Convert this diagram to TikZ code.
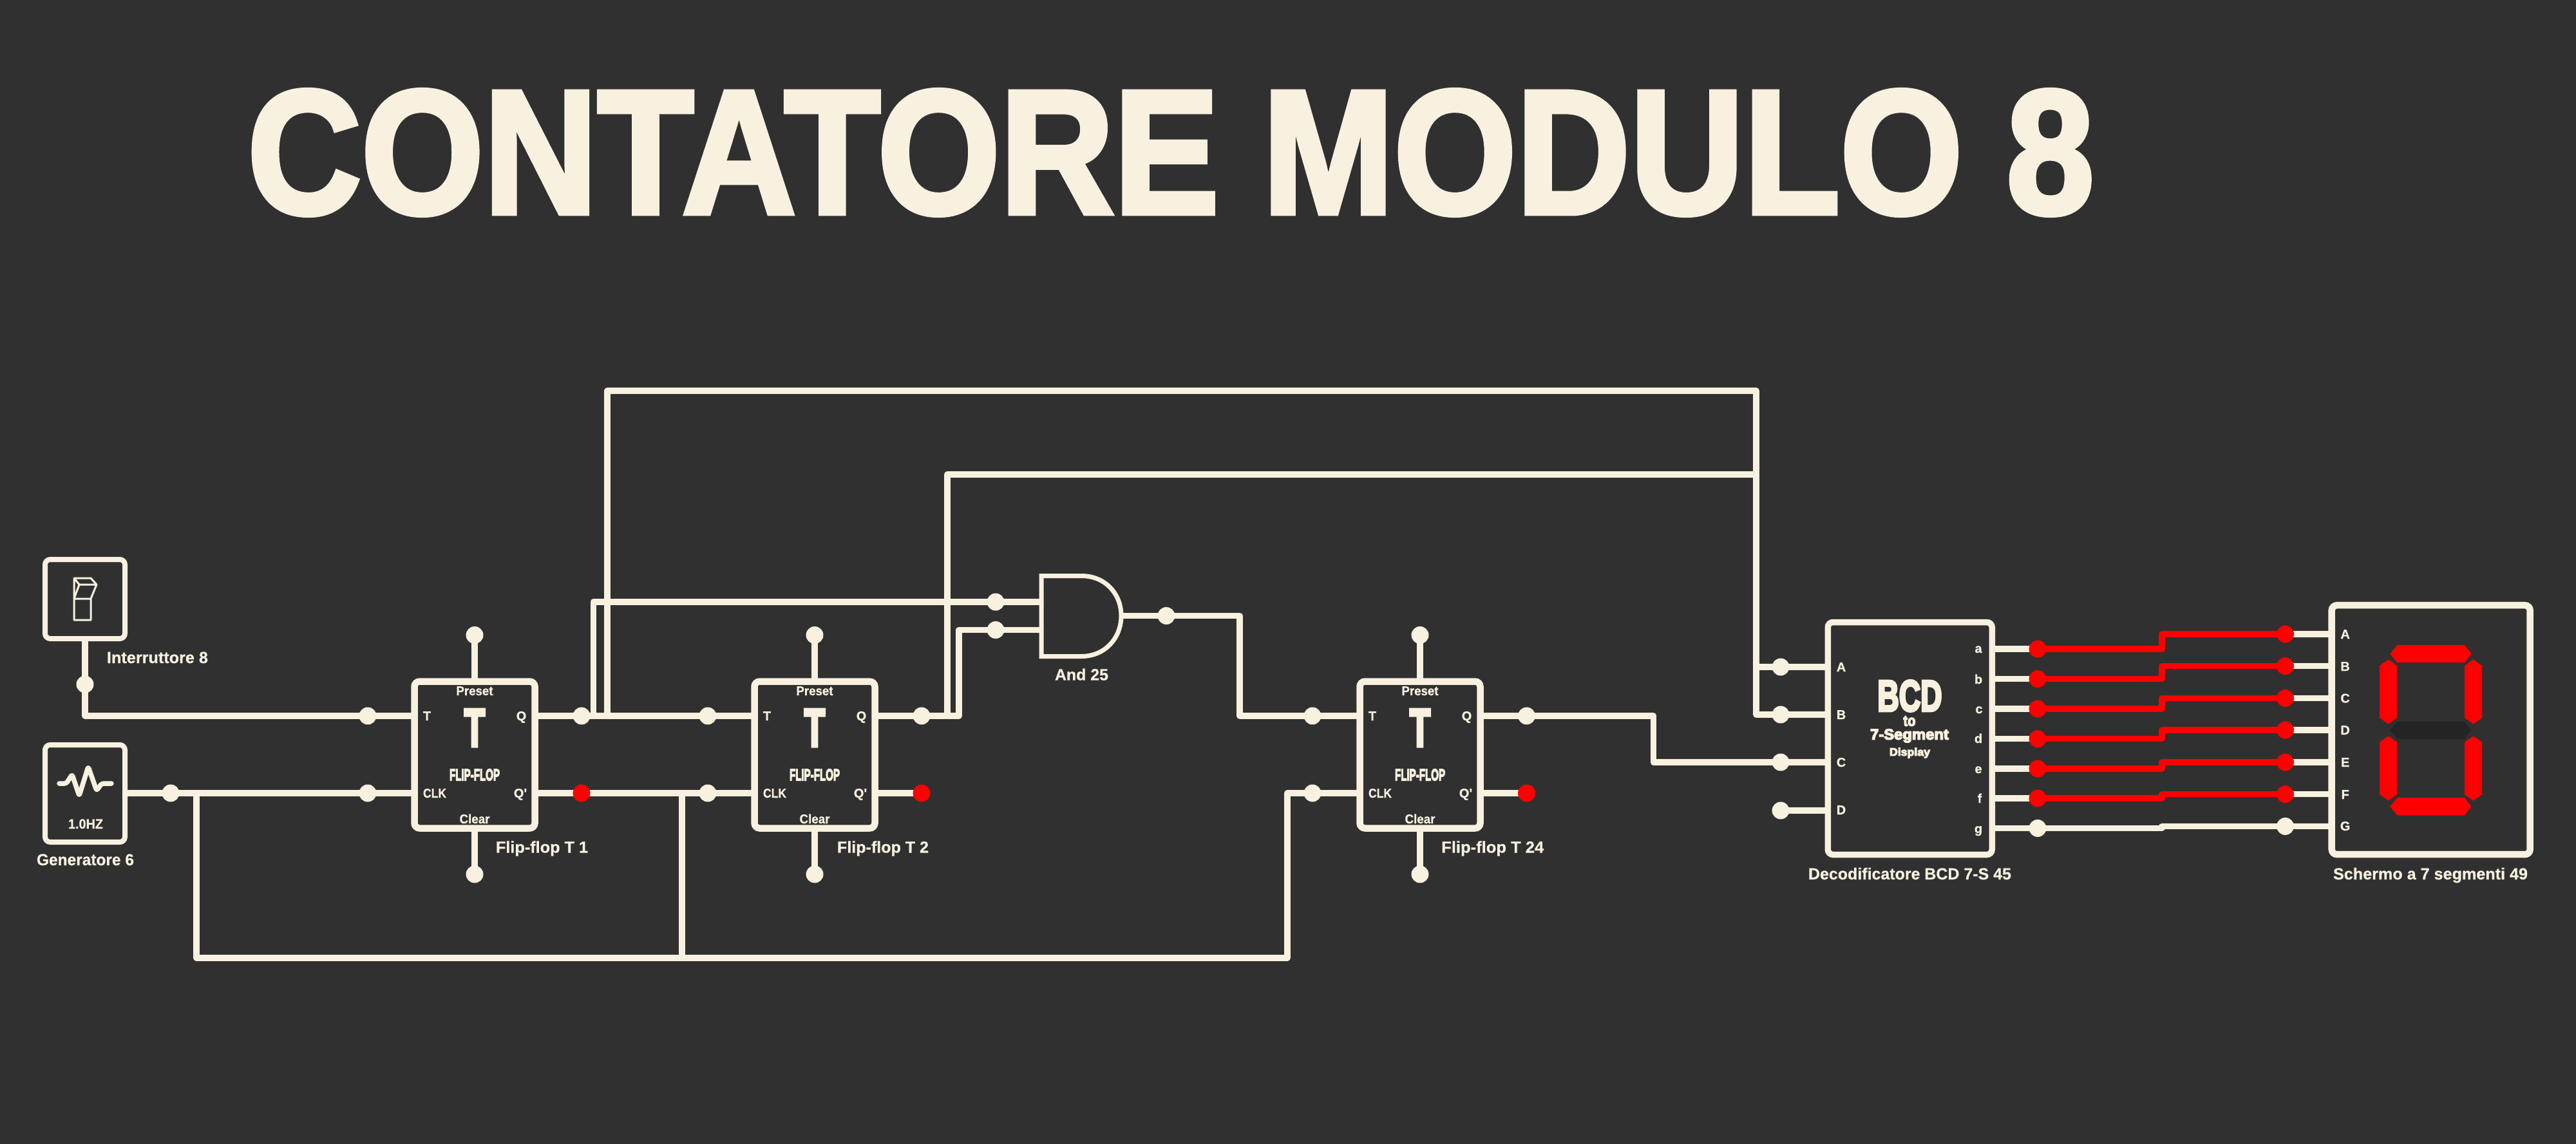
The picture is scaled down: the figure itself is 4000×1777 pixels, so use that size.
\documentclass[tikz,border=0pt]{standalone}
\usepackage{graphicx}
\usepackage{fontspec}
\setmainfont{Liberation Sans}
\newfontfamily\heavyf[FakeBold=3]{Liberation Sans Bold}
\newfontfamily\xheavyf[FakeBold=6]{Liberation Sans Bold}
\newfontfamily\midf[FakeBold=0.6]{Liberation Sans Bold}
\definecolor{cream}{HTML}{F8F1E0}
\definecolor{bgc}{HTML}{303030}
\definecolor{segoff}{HTML}{242424}
\definecolor{segred}{HTML}{FF0000}
\pgfdeclarelayer{wires}
\pgfsetlayers{wires,main}
\newcommand{\ftxt}[3]{\resizebox{#2pt}{\height}{\midf\fontsize{#1}{#1}\selectfont #3}}
\newcommand{\fimp}[3]{\resizebox*{#1pt}{#2pt}{\heavyf #3}}
\newcommand{\ximp}[3]{\resizebox*{#1pt}{#2pt}{\xheavyf #3}}
\newcommand{\stxt}[1]{\midf\fontsize{20}{20}\selectfont #1}
\tikzset{
  wire/.style={draw=cream,line width=9.5pt,line join=round,line cap=round},
  redwire/.style={draw=segred,line width=9.5pt,line join=round,line cap=round},
  pin/.style={circle,fill=cream,draw=none,minimum size=27pt,inner sep=0pt,outer sep=0pt},
  redpin/.style={pin,fill=segred},
  box/.style={draw=cream,fill=bgc,rounded corners=8pt,inner sep=0pt,outer sep=0pt,line width=8pt},
  ffbox/.style={box,minimum width=187pt,minimum height=228pt,line width=10.5pt},
  txt/.style={text=cream,inner sep=0pt,outer sep=0pt,anchor=base},
  imp/.style={text=cream,inner sep=0pt,outer sep=0pt,anchor=center},
  seg/.style={fill=segred,draw=none},
}
\begin{document}
\begin{tikzpicture}[x=1pt,y=-1pt]
\useasboundingbox (0,0) rectangle (4000,1777);
\begin{pgfonlayer}{wires}
\fill[bgc] (0,0) rectangle (4000,1777);
\end{pgfonlayer}

% title
\node[imp] (title) at (1818,237) {\fimp{2862}{194}{CONTATORE MODULO 8}};

% boxes
\node[box,minimum width=124pt,minimum height=123pt] (sw) at (132,930.5) {};
\node[box,minimum width=124pt,minimum height=151pt] (gen) at (132,1232.5) {};
\node[ffbox] (f1) at (737,1172.5) {};
\node[ffbox] (f2) at (1265,1172.5) {};
\node[ffbox] (f3) at (2205,1172.5) {};
\node[box,minimum width=255pt,minimum height=361pt,line width=9.5pt] (dec) at (2965.75,1147) {};
\node[box,minimum width=308pt,minimum height=387pt,line width=10.5pt] (disp) at (3774.7,1133.7) {};

% switch icon
\draw[cream,line width=3pt,line join=round]
  (115,930) rectangle (141,963)
  (115,930) -- (115,898) -- (141,898) -- (150,908) -- (141,930)
  (115,898) -- (123,908) -- (150,908)
  (123,908) -- (115,930);
% wave icon
\draw[cream,line width=7.5pt,line cap=round,line join=round,rounded corners=3pt]
  (92,1217) -- (103,1217) -- (112,1203) -- (123,1236) -- (137,1191) -- (150,1228) -- (158,1217) -- (173,1217);

% pins
\node[pin] (pS) at (132,1063) {};
\node[pin] (pT1) at (571,1112) {};
\node[pin] (pG) at (265,1232) {};
\node[pin] (pC1) at (571,1232) {};
\node[pin] (pQ1) at (903,1112) {};
\node[redpin] (pN1) at (903,1232) {};
\node[pin] (pT2) at (1099,1112) {};
\node[pin] (pC2) at (1099,1232) {};
\node[pin] (pQ2) at (1431,1112) {};
\node[redpin] (pN2) at (1431,1232) {};
\node[pin] (pT3) at (2038,1112) {};
\node[pin] (pC3) at (2038,1232) {};
\node[pin] (pQ3) at (2370.5,1112) {};
\node[redpin] (pN3) at (2370.5,1232) {};
\foreach \n/\x in {1/737,2/1265,3/2205}{
  \node[pin] (top\n) at (\x,986.5) {};
  \node[pin] (bot\n) at (\x,1358) {};
}
\node[pin] (gA) at (1546,935) {};
\node[pin] (gB) at (1546,978.5) {};
\node[pin] (gO) at (1811,956.5) {};
\node[pin] (dA) at (2765,1036) {};
\node[pin] (dB) at (2765,1110) {};
\node[pin] (dC) at (2765,1184) {};
\node[pin] (dD) at (2765,1259) {};

% AND gate
\coordinate (gin1) at (1617,935);
\coordinate (gin2) at (1617,978.5);
\coordinate (gout) at (1741,956.5);
\draw[cream,line width=7pt,fill=bgc,line join=miter]
  (1617,894.5) -- (1679,894.5) .. controls (1716,894.5) and (1741,922) .. (1741,956.5)
  .. controls (1741,991) and (1716,1019.5) .. (1679,1019.5) -- (1617,1019.5) -- cycle;

% junction coordinates
\coordinate (j1) at (305,1232);
\coordinate (j2) at (305,1488);
\coordinate (j3) at (1059,1232);
\coordinate (j4) at (1059,1488);
\coordinate (j5) at (1999,1488);
\coordinate (j6) at (1999,1232);
\coordinate (k1) at (921.5,1112);
\coordinate (k2) at (921.5,935);
\coordinate (k3) at (943,1112);
\coordinate (k4) at (943,607);
\coordinate (k5) at (2727,607);
\coordinate (k6) at (2727,1110);
\coordinate (k7) at (2727,1036);
\coordinate (m1) at (1489,1112);
\coordinate (m2) at (1489,978.5);
\coordinate (m3) at (1471,1112);
\coordinate (m4) at (1471,737);
\coordinate (m5) at (2727,737);
\coordinate (n1) at (1925,956.5);
\coordinate (n2) at (1925,1112);
\coordinate (q1) at (2567.6,1112);
\coordinate (q2) at (2567.6,1184);

\begin{pgfonlayer}{wires}
\draw[wire] (sw.south) -- (pS.center) |- (pT1.center) -- (pT1 -| f1.west);
\draw[wire] (gen.east |- pG) -- (pG.center) -- (pC1.center) -- (pC1 -| f1.west);
\draw[wire] (j1) -- (j2) -- (j5) -- (j6) -- (pC3.center) -- (pC3 -| f3.west);
\draw[wire] (j3) -- (j4);
\draw[wire] (pQ1 -| f1.east) -- (pQ1.center) -- (pT2.center) -- (pT2 -| f2.west);
\draw[wire] (pN1 -| f1.east) -- (pN1.center) -- (pC2.center) -- (pC2 -| f2.west);
\draw[wire] (k1) -- (k2) -- (gA.center) -- (gin1);
\draw[wire] (k3) -- (k4) -- (k5) -- (k6) -- (dB.center) -- (dB -| dec.west);
\draw[wire] (k7) -- (dA.center) -- (dA -| dec.west);
\draw[wire] (pQ2 -| f2.east) -- (pQ2.center) -- (m1) -- (m2) -- (gB.center) -- (gin2);
\draw[wire] (m3) -- (m4) -- (m5);
\draw[wire] (pN2 -| f2.east) -- (pN2.center);
\draw[wire] (gout) -- (gO.center) -- (n1) -- (n2) -- (pT3.center) -- (pT3 -| f3.west);
\draw[wire] (pQ3 -| f3.east) -- (pQ3.center) -- (q1) -- (q2) -- (dC.center) -- (dC -| dec.west);
\draw[wire] (pN3 -| f3.east) -- (pN3.center);
\draw[wire] (dD.center) -- (dD -| dec.west);
\foreach \n in {1,2,3}{
  \draw[wire] (top\n.center) -- (top\n |- f\n.north);
  \draw[wire] (bot\n.center) -- (bot\n |- f\n.south);
}
\end{pgfonlayer}

% flip-flop texts
\foreach \n/\x in {1/737,2/1265,3/2205}{
  \node[txt] (pre\n) at (\x,1080) {\ftxt{20}{57}{Preset}};
  \node[txt] (clr\n) at (\x,1279) {\ftxt{20}{47}{Clear}};
  \node[txt] (tl\n) at (\x-74,1119) {\stxt{T}};
  \node[txt] (ql\n) at (\x+72.5,1119) {\stxt{Q}};
  \node[txt] (cl\n) at (\x-62,1239) {\ftxt{20}{36}{CLK}};
  \node[txt] (nl\n) at (\x+71,1239) {\stxt{Q'}};
  \node[imp] (bt\n) at (\x,1130.5) {\ximp{32}{57}{T}};
  \node[imp] (ff\n) at (\x,1203.5) {\ximp{78}{18}{FLIP-FLOP}};
}

% decoder texts
\node[imp] (bcd) at (2965.5,1081) {\ximp{100}{48}{BCD}};
\node[imp] (bto) at (2965,1120) {\ximp{19}{15.5}{to}};
\node[imp] (bsg) at (2965,1143) {\ximp{122}{21}{7-Segment}};
\node[imp] (bds) at (2965.5,1169.5) {\ximp{63}{16}{Display}};
\foreach \l/\y in {A/1043,B/1117,C/1191,D/1265}{
  \node[txt] (dl\l) at (2859,\y) {\stxt{\l}};
}
\foreach \l/\y/\x in {a/1014/3072,b/1062/3072,c/1108/3073,d/1154/3072,e/1201/3072,f/1247/3074,g/1294/3072}{
  \node[txt] (ol\l) at (\x,\y) {\stxt{\l}};
}
% display letters
\foreach \l/\y in {A/992,B/1042,C/1091.5,D/1141,E/1191,F/1241,G/1290}{
  \node[txt] (il\l) at (3641.6,\y) {\stxt{\l}};
}

% decoder outputs to display inputs
\foreach \l/\yo/\yi/\st in {a/1008/985/redpin,b/1054.6/1034.7/redpin,c/1101/1084.5/redpin,d/1147.6/1134/redpin,e/1194/1184/redpin,f/1240/1233.7/redpin,g/1286.5/1283.5/pin}{
  \node[\st] (o\l) at (3164,\yo) {};
  \node[\st] (i\l) at (3548.5,\yi) {};
  \coordinate (s\l) at (3357,\yo);
}
\begin{pgfonlayer}{wires}
\foreach \l in {a,b,c,d,e,f,g}{
  \draw[wire] (o\l -| dec.east) -- (o\l.center);
  \draw[wire] (i\l.center) -- (i\l -| disp.west);
}
\foreach \l in {a,b,c,d,e,f}{
  \draw[redwire] (o\l.center) -- (s\l) |- (i\l.center);
}
\draw[wire] (og.center) -- (sg) |- (ig.center);
\end{pgfonlayer}

% seven segments
\fill[seg] (3722.6,1002) -- (3827,1002) -- (3837.4,1015.6) -- (3827,1029) -- (3722.6,1029) -- (3711,1015.6) -- cycle;
\fill[segoff] (3722.6,1121) -- (3827,1121) -- (3837.4,1134.5) -- (3827,1148) -- (3722.6,1148) -- (3711,1134.5) -- cycle;
\fill[seg] (3722.6,1239) -- (3827,1239) -- (3837.4,1252.8) -- (3827,1266.6) -- (3722.6,1266.6) -- (3711,1252.8) -- cycle;
\foreach \xa/\xm/\xb in {3695/3708.6/3722,3827/3840.5/3854}{
  \fill[seg] (\xm,1024.4) -- (\xb,1034) -- (\xb,1115) -- (\xm,1124.6) -- (\xa,1115) -- (\xa,1034) -- cycle;
  \fill[seg] (\xm,1143.4) -- (\xb,1152.6) -- (\xb,1234) -- (\xm,1243.7) -- (\xa,1234) -- (\xa,1152.6) -- cycle;
}

% labels
\node[txt] (hz) at (133,1287) {\ftxt{21}{54}{1.0HZ}};
\node[txt] (lsw) at (244.5,1030) {\ftxt{25}{157}{Interruttore 8}};
\node[txt] (lgen) at (132.5,1344) {\ftxt{25}{151}{Generatore 6}};
\node[txt] (lf1) at (841.5,1324.5) {\ftxt{25}{143}{Flip-flop T 1}};
\node[txt] (lf2) at (1371,1324.5) {\ftxt{25}{142}{Flip-flop T 2}};
\node[txt] (lf3) at (2317.7,1324.5) {\ftxt{25}{159}{Flip-flop T 24}};
\node[txt] (land) at (1679.5,1056.6) {\ftxt{25}{83}{And 25}};
\node[txt] (ldec) at (2965.5,1366) {\ftxt{25}{315}{Decodificatore BCD 7-S 45}};
\node[txt] (ldisp) at (3774,1366) {\ftxt{25}{302}{Schermo a 7 segmenti 49}};
\end{tikzpicture}
\end{document}
